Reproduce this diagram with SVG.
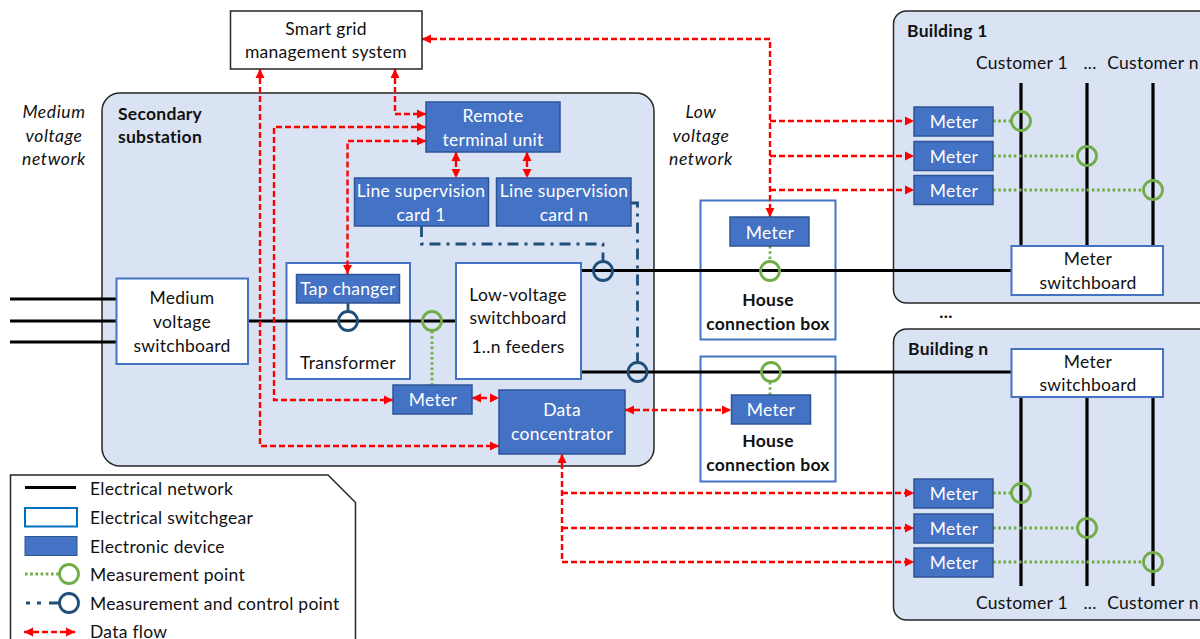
<svg xmlns="http://www.w3.org/2000/svg" width="1200" height="639" viewBox="0 0 1200 639">
<style>
text{font-family:"Lato","Carlito","Open Sans",sans-serif;font-size:17.5px;fill:#111;text-anchor:middle;letter-spacing:.27px}
.w{fill:#fff}.b{font-weight:700}.i{font-style:italic;letter-spacing:.6px}.l{text-anchor:start}
.area{fill:#dae3f3;stroke:#262626;stroke-width:1.5}
.dev{fill:#4472c4;stroke:#2f5597;stroke-width:1.5}
.sw{fill:#fff;stroke:#4472c4;stroke-width:2}
.el{fill:none;stroke:#000;stroke-width:3.2}
.flow{fill:none;stroke:#f00;stroke-width:2.4;stroke-dasharray:6 3}
.gd{fill:none;stroke:#70ad47;stroke-width:2.8;stroke-dasharray:2.6 2.6}
.bd{fill:none;stroke:#1f4e79;stroke-width:2.8;stroke-dasharray:11 6 3 6}
.gc{fill:none;stroke:#70ad47;stroke-width:2.8}
.bc{fill:none;stroke:#1f4e79;stroke-width:2.8}
</style>
<defs>
<marker id="a" markerUnits="userSpaceOnUse" markerWidth="10" markerHeight="10" refX="9" refY="5" orient="auto-start-reverse"><path d="M0 .5L9 5L0 9.500z" fill="#f00"/></marker>
</defs>
<rect width="1200" height="639" fill="#fff"/>
<g id="secondary-substation"><rect class="area" x="102" y="93" width="552" height="373" rx="18"/><text class="b l" x="118" y="120">Secondary</text><text class="b l" x="118" y="143">substation</text></g>
<g id="building-1"><rect class="area" x="893.500" y="11" width="330" height="292" rx="13"/><text class="b l" x="907" y="37">Building 1</text><text x="1022" y="69">Customer 1</text><text x="1090" y="69">...</text><text x="1153" y="69">Customer n</text></g>
<g id="building-n"><rect class="area" x="893.500" y="329" width="330" height="291" rx="13"/><text class="b l" x="908" y="355">Building n</text><text x="1022" y="609">Customer 1</text><text x="1090" y="609">...</text><text x="1153" y="609">Customer n</text></g>
<text class="b" x="946" y="318">...</text>
<g id="labels"><text class="i" x="54" y="118">Medium</text><text class="i" x="54" y="142">voltage</text><text class="i" x="54" y="165">network</text><text class="i" x="701" y="118">Low</text><text class="i" x="701" y="142">voltage</text><text class="i" x="701" y="165">network</text></g>
<g id="house-box-1"><rect class="sw" x="700.500" y="200.500" width="135" height="139"/><text class="b" x="768" y="306">House</text><text class="b" x="768" y="330">connection box</text></g>
<g id="house-box-2"><rect class="sw" x="700.500" y="356.500" width="135" height="125"/><text class="b" x="768" y="447">House</text><text class="b" x="768" y="471">connection box</text></g>
<g id="transformer"><rect class="sw" x="286.500" y="263" width="123.500" height="116"/><text x="348" y="369">Transformer</text></g>
<g id="connectors">
<path class="el" d="M10 299H116M10 321H116M10 342H116M248 321H456M581 270.500H1011M581 372H1011"/>
<path class="el" d="M1021 83V246M1087 83V246M1153 83V246M1021 397V586M1087 397V586M1153 397V586"/>
<path class="gd" d="M432 331V385M770 246V261M770 382V395M993 121H1011M993 156H1077M993 190H1143M993 493H1011M993 528H1077M993 562H1143"/>
<path class="bd" d="M421.500 226V244H603V261M631 203H637.500V362"/>
<path fill="none" stroke="#1f4e79" stroke-width="2.800" d="M348 303V312"/>
<path class="flow" marker-start="url(#a)" marker-end="url(#a)" d="M422 39H770V217"/>
<path class="flow" marker-end="url(#a)" d="M770 121H914"/><path class="flow" marker-end="url(#a)" d="M770 156H914"/><path class="flow" marker-end="url(#a)" d="M770 190H914"/>
<path class="flow" marker-start="url(#a)" marker-end="url(#a)" d="M260 69V446H499"/>
<path class="flow" marker-start="url(#a)" marker-end="url(#a)" d="M426 127H274V400H393"/>
<path class="flow" marker-start="url(#a)" marker-end="url(#a)" d="M426 141H347.500V274"/>
<path class="flow" marker-start="url(#a)" marker-end="url(#a)" d="M395 69V114H426"/>
<path class="flow" marker-start="url(#a)" marker-end="url(#a)" d="M456 152V178"/>
<path class="flow" marker-start="url(#a)" marker-end="url(#a)" d="M527 152V178"/>
<path class="flow" marker-start="url(#a)" marker-end="url(#a)" d="M472 398H499"/>
<path class="flow" marker-start="url(#a)" marker-end="url(#a)" d="M625 410H731"/>
<path class="flow" marker-start="url(#a)" marker-end="url(#a)" d="M562 454V562H914"/>
<path class="flow" marker-end="url(#a)" d="M562 493H914"/><path class="flow" marker-end="url(#a)" d="M562 528H914"/>
<circle class="bc" cx="348" cy="321" r="9.500"/><circle class="bc" cx="603" cy="271" r="9.500"/><circle class="bc" cx="637.500" cy="372" r="9.500"/>
<circle class="gc" cx="432" cy="321" r="9.500"/><circle class="gc" cx="770" cy="271" r="9.500"/><circle class="gc" cx="771" cy="372" r="9.500"/>
<circle class="gc" cx="1021" cy="121" r="9.500"/><circle class="gc" cx="1087" cy="156" r="9.500"/><circle class="gc" cx="1153" cy="190" r="9.500"/>
<circle class="gc" cx="1021" cy="493" r="9.500"/><circle class="gc" cx="1087" cy="528" r="9.500"/><circle class="gc" cx="1153" cy="562" r="9.500"/>
</g>
<g id="smart-grid"><rect x="230.500" y="11" width="191.500" height="58" fill="#fff" stroke="#262626" stroke-width="1.500"/><text x="326" y="35">Smart grid</text><text x="326" y="58">management system</text></g>
<g id="rtu"><rect class="dev" x="426" y="102" width="134" height="50"/><text class="w" x="493" y="122">Remote</text><text class="w" x="493" y="146">terminal unit</text></g>
<g id="lsc-1"><rect class="dev" x="354.500" y="178" width="134" height="48"/><text class="w" x="421" y="197">Line supervision</text><text class="w" x="421" y="221">card 1</text></g>
<g id="lsc-n"><rect class="dev" x="496.500" y="178" width="134.500" height="48"/><text class="w" x="564" y="197">Line supervision</text><text class="w" x="564" y="221">card n</text></g>
<g id="tap-changer"><rect class="dev" x="296.500" y="274.500" width="103" height="28.500"/><text class="w" x="348" y="295">Tap changer</text></g>
<g id="mv-switchboard"><rect class="sw" x="116.500" y="278.500" width="131.500" height="85.500"/><text x="182" y="304">Medium</text><text x="182" y="328">voltage</text><text x="182" y="352">switchboard</text></g>
<g id="lv-switchboard"><rect class="sw" x="456" y="263" width="125" height="116"/><text x="518" y="301">Low-voltage</text><text x="518" y="324">switchboard</text><text x="518" y="353">1..n feeders</text></g>
<g id="meter-sub"><rect class="dev" x="393" y="385" width="79" height="29"/><text class="w" x="433" y="406">Meter</text></g>
<g id="data-concentrator"><rect class="dev" x="499" y="390" width="126" height="64"/><text class="w" x="562" y="416">Data</text><text class="w" x="562" y="440">concentrator</text></g>
<g id="meter-h1"><rect class="dev" x="730" y="217" width="79" height="29"/><text class="w" x="770" y="239">Meter</text></g>
<g id="meter-h2"><rect class="dev" x="731.500" y="395" width="79" height="29"/><text class="w" x="771" y="416">Meter</text></g>
<g id="meters-b1"><rect class="dev" x="914" y="107" width="79" height="29"/><text class="w" x="954" y="128">Meter</text><rect class="dev" x="914" y="141.500" width="79" height="29"/><text class="w" x="954" y="163">Meter</text><rect class="dev" x="914" y="175.500" width="79" height="29"/><text class="w" x="954" y="197">Meter</text></g>
<g id="meters-bn"><rect class="dev" x="914" y="479" width="79" height="29"/><text class="w" x="954" y="500">Meter</text><rect class="dev" x="914" y="514" width="79" height="29"/><text class="w" x="954" y="535">Meter</text><rect class="dev" x="914" y="548" width="79" height="29"/><text class="w" x="954" y="569">Meter</text></g>
<g id="switchboard-b1"><rect class="sw" x="1011.500" y="246" width="151.500" height="49"/><text x="1088" y="265">Meter</text><text x="1088" y="289">switchboard</text></g>
<g id="switchboard-bn"><rect class="sw" x="1011.500" y="349" width="151.500" height="48"/><text x="1088" y="368">Meter</text><text x="1088" y="391">switchboard</text></g>
<g id="legend">
<path d="M10.500 640V475H328L355.500 502.500V640" fill="#fff" stroke="#262626" stroke-width="1.500"/>
<path d="M25 487.500H76" stroke="#000" stroke-width="3" fill="none"/>
<rect x="25" y="508" width="52" height="18.500" fill="#fff" stroke="#0070c0" stroke-width="2"/>
<rect x="25" y="536.500" width="52" height="19" fill="#4472c4" stroke="#2f5597" stroke-width="1"/>
<path class="gd" d="M25 574H59"/><circle class="gc" cx="69" cy="574" r="9.500"/>
<path d="M26 603H30M37 603H41M49 603H60" stroke="#1f4e79" stroke-width="2.800" fill="none"/><circle class="bc" cx="69" cy="603" r="9.500"/>
<path class="flow" marker-start="url(#a)" marker-end="url(#a)" d="M24 632H75"/>
<text class="l" x="90" y="495">Electrical network</text>
<text class="l" x="90" y="524">Electrical switchgear</text>
<text class="l" x="90" y="553">Electronic device</text>
<text class="l" x="90" y="581">Measurement point</text>
<text class="l" x="90" y="610">Measurement and control point</text>
<text class="l" x="90" y="638">Data flow</text>
</g>
</svg>
